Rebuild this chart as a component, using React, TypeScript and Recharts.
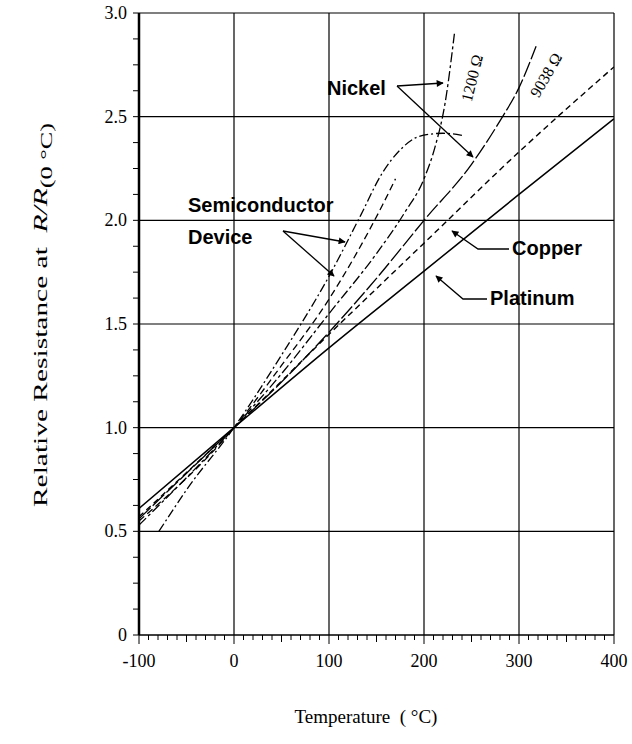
import { LineChart, Line, XAxis, YAxis, ReferenceLine } from 'recharts';

// temperature (°C) / relative resistance R/R(0 °C)
const platinumT = [-100, 0, 100, 200, 300, 400];
const platinumR = [0.61, 1.0, 1.385, 1.755, 2.125, 2.49];

const copperT = [-100, 0, 100, 200, 300, 400];
const copperR = [0.57, 1.0, 1.45, 1.89, 2.33, 2.74];

const nickel9038T = [-100, 0, 50, 100, 150, 200, 250, 280, 300, 318];
const nickel9038R = [0.56, 1.0, 1.22, 1.46, 1.72, 2.0, 2.27, 2.48, 2.64, 2.84];

const nickel1200T = [-100, 0, 50, 100, 150, 180, 200, 212, 222, 232];
const nickel1200R = [0.53, 1.0, 1.26, 1.55, 1.84, 2.04, 2.2, 2.36, 2.56, 2.9];

const semiAT = [-79, -50, 0, 50, 100, 134, 155, 175, 195, 220, 240];
const semiAR = [0.5, 0.7, 1.0, 1.35, 1.73, 2.03, 2.22, 2.34, 2.405, 2.42, 2.41];

const semiBT = [-100, 0, 50, 100, 157, 170];
const semiBR = [0.55, 1.0, 1.3, 1.62, 2.08, 2.2];

const xMajor = [-100, 0, 100, 200, 300, 400];
const yMajor = [0, 0.5, 1.0, 1.5, 2.0, 2.5, 3.0];

const xTicks = Array.from({ length: 51 }, (_, i) => -100 + i * 10);
const yTicks = Array.from({ length: 25 }, (_, i) => i * 0.125);

const pts = (ts: number[], rs: number[]) => ts.map((t, i) => ({ t, r: rs[i] }));

const serif = '"Liberation Serif", "Times New Roman", serif';
const sans = '"Liberation Sans", Arial, sans-serif';

const XTick = (props: any) => {
  const { x, y, payload } = props;
  const v = payload.value;
  const major = v % 100 === 0;
  const mid = v % 50 === 0;
  const len = major ? 9 : mid ? 7 : 5;
  return (
    <g>
      <line x1={x} x2={x} y1={y} y2={y + len} stroke="#000" strokeWidth={1} />
      {major && (
        <text x={x} y={y + 32} textAnchor="middle" fontSize={18} fontFamily={serif} fill="#000">
          {v}
        </text>
      )}
    </g>
  );
};

const YTick = (props: any) => {
  const { x, y, payload } = props;
  const v = payload.value;
  const major = Math.abs(v * 2 - Math.round(v * 2)) < 1e-6;
  return (
    <g>
      <line x1={x - 6} x2={x} y1={y} y2={y} stroke="#000" strokeWidth={1} />
      {major && (
        <text x={x - 12} y={y + 6} textAnchor="end" fontSize={18} fontFamily={serif} fill="#000">
          {v === 0 ? '0' : v.toFixed(1)}
        </text>
      )}
    </g>
  );
};

const series = [
  { key: 'platinum', data: pts(platinumT, platinumR), dash: undefined, w: 1.5 },
  { key: 'copper', data: pts(copperT, copperR), dash: '6 4', w: 1.4 },
  { key: 'n9038', data: pts(nickel9038T, nickel9038R), dash: '16 3', w: 1.3 },
  { key: 'n1200', data: pts(nickel1200T, nickel1200R), dash: '10 3 3 3', w: 1.3 },
  { key: 'semiA', data: pts(semiAT, semiAR), dash: '9 3 2 3', w: 1.3 },
  { key: 'semiB', data: pts(semiBT, semiBR), dash: '7 4', w: 1.3 },
];

const Annotations = () => (
  <svg width={632} height={744} style={{ position: 'absolute', left: 0, top: 0, pointerEvents: 'none' }}>
    <defs>
      <marker id="ah" viewBox="0 0 10 10" refX="9" refY="5" markerWidth="9" markerHeight="7" orient="auto" markerUnits="userSpaceOnUse">
        <path d="M0,0 L10,5 L0,10 z" fill="#000" />
      </marker>
    </defs>
    <g fontFamily={sans} fontWeight="bold" fontSize={20} fill="#000">
      <text x={327} y={95}>Nickel</text>
      <text x={188} y={212}>Semiconductor</text>
      <text x={188} y={244}>Device</text>
      <text x={512} y={255}>Copper</text>
      <text x={490} y={305}>Platinum</text>
    </g>
    <g stroke="#000" strokeWidth={1.3} fill="none">
      <line x1={397} y1={86} x2={443} y2={83} markerEnd="url(#ah)" />
      <line x1={397} y1={86} x2={473} y2={157} markerEnd="url(#ah)" />
      <line x1={283} y1={231} x2={345} y2={242} markerEnd="url(#ah)" />
      <line x1={283} y1={231} x2={334} y2={276} markerEnd="url(#ah)" />
      <polyline points="509,249 478,249 452,231" markerEnd="url(#ah)" />
      <polyline points="487,299 463,299 436,276" markerEnd="url(#ah)" />
    </g>
    <g fontFamily={serif} fontSize={16} fill="#000">
      <text x={472} y={78} textAnchor="middle" dominantBaseline="central" transform="rotate(-76 472 78)">
        1200 Ω
      </text>
      <text x={546} y={75} textAnchor="middle" dominantBaseline="central" transform="rotate(-60 546 75)">
        9038 Ω
      </text>
    </g>
    <text x={366} y={723} textAnchor="middle" fontFamily={serif} fontSize={19} fill="#000">
      Temperature{'\u00a0\u00a0'}( °C)
    </text>
    <g transform="translate(40 315) rotate(-90) scale(1.55 1)">
      <text x={0} y={0} textAnchor="middle" dominantBaseline="central" fontFamily={serif} fontSize={19} fill="#000">
        Relative Resistance at{'\u00a0\u00a0'}
        <tspan fontStyle="italic">R/R</tspan>
        <tspan dy={6} fontSize={17}>(0 °C)</tspan>
      </text>
    </g>
  </svg>
);

export default function App() {
  return (
    <div style={{ position: 'absolute', left: 0, top: 0, width: 632, height: 744, background: '#fff' }}>
      <LineChart width={632} height={744} margin={{ top: 13, right: 18, left: 79, bottom: 69 }}>
        <XAxis
          dataKey="t"
          type="number"
          domain={[-100, 400]}
          ticks={xTicks}
          interval={0}
          tickSize={0}
          tickMargin={0}
          tick={<XTick />}
          height={40}
          axisLine={{ stroke: '#000', strokeWidth: 1.5 }}
          allowDataOverflow
        />
        <YAxis
          type="number"
          domain={[0, 3]}
          ticks={yTicks}
          interval={0}
          tickSize={0}
          tickMargin={0}
          tick={<YTick />}
          width={60}
          axisLine={{ stroke: '#000', strokeWidth: 2.5 }}
          allowDataOverflow
        />
        {xMajor.slice(1).map((v) => (
          <ReferenceLine key={'vx' + v} x={v} stroke="#000" strokeWidth={1.2} />
        ))}
        {yMajor.slice(1).map((v) => (
          <ReferenceLine key={'hy' + v} y={v} stroke="#000" strokeWidth={1.2} />
        ))}
        {series.map((s) => (
          <Line
            key={s.key}
            data={s.data}
            dataKey="r"
            type="monotone"
            stroke="#000"
            strokeWidth={s.w}
            strokeDasharray={s.dash}
            dot={false}
            activeDot={false}
            isAnimationActive={false}
          />
        ))}
      </LineChart>
      <Annotations />
    </div>
  );
}
